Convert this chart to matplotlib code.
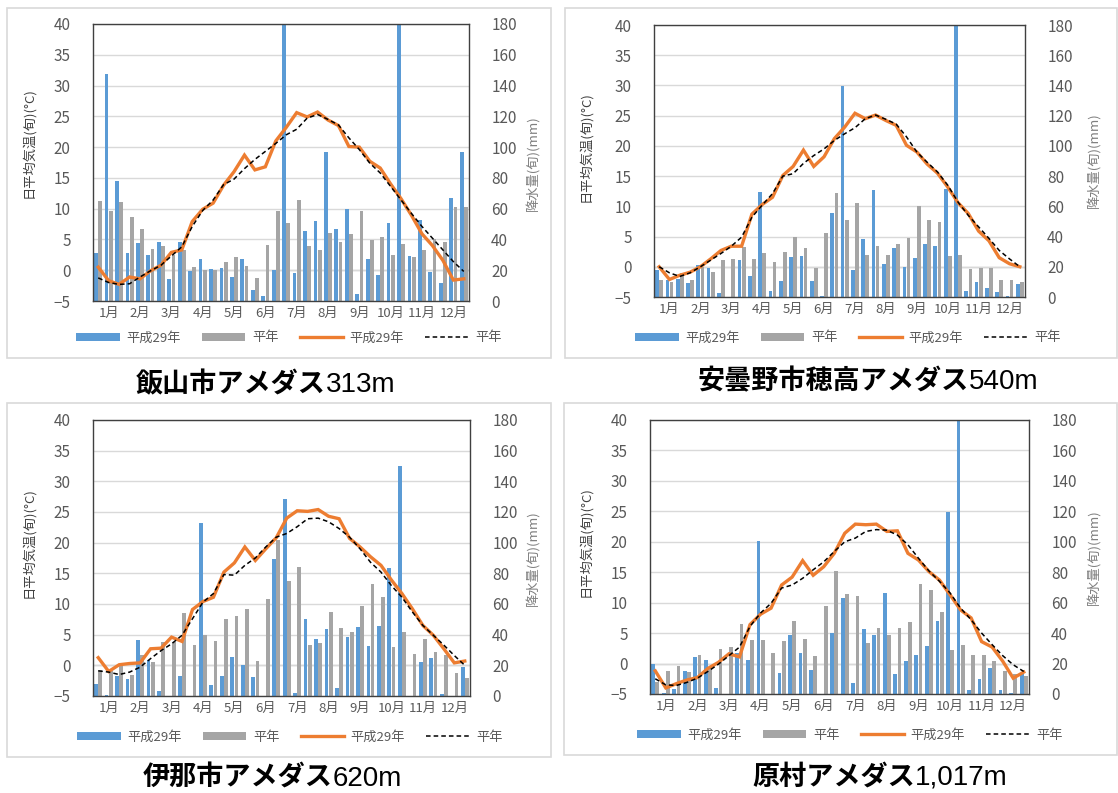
import matplotlib
matplotlib.use("Agg")
import matplotlib.pyplot as plt
import numpy as np
from matplotlib.patches import Rectangle, Patch
from matplotlib.lines import Line2D

plt.rcParams['font.family'] = ['Noto Sans CJK JP', 'DejaVu Sans']

# ---- data: 36 dekads (上旬/中旬/下旬 of each month) ----
months = ['1月', '2月', '3月', '4月', '5月', '6月',
          '7月', '8月', '9月', '10月', '11月', '12月']
series_labels = ['平成29年', '平年', '平成29年', '平年']

station_names = ['飯山市アメダス', '安曇野市穂高アメダス', '伊那市アメダス', '原村アメダス']
station_alts = ['313m', '540m', '620m', '1,017m']

# 飯山
iiyama_rain_2017 = [30.9, 147.6, 78.3, 31.5, 37.4, 30.2, 38.5, 14.3, 38.5, 19.6, 27.4, 20.9,
                    21.7, 15.7, 27.4, 7.4, 3.0, 20.0, 215.0, 18.5, 45.7, 51.7, 96.5, 46.7,
                    59.6, 4.3, 27.4, 17.2, 50.4, 200.0, 29.3, 52.4, 18.7, 11.7, 66.7, 96.7]
iiyama_rain_normal = [65.2, 58.5, 64.6, 54.3, 46.5, 33.9, 35.7, 30.0, 33.0, 22.2, 20.0, 20.0,
                      25.4, 28.7, 22.8, 15.2, 36.1, 58.7, 50.4, 65.7, 35.7, 33.0, 43.9, 38.5,
                      43.5, 58.7, 39.6, 41.7, 29.6, 37.0, 28.7, 33.0, 40.4, 38.3, 61.1, 61.1]
iiyama_temp_2017 = [0.5, -1.7, -2.3, -1.1, -1.4, -0.1, 0.8, 2.9, 3.3, 7.9, 9.9, 10.9,
                    13.8, 16.0, 18.7, 16.3, 16.8, 21.0, 23.2, 25.6, 24.9, 25.7, 24.4, 23.5,
                    20.1, 20.0, 17.7, 16.6, 14.0, 11.6, 8.9, 5.9, 4.0, 1.6, -1.6, -1.4]
iiyama_temp_normal = [-1.25, -2.0, -2.3, -2.2, -1.1, -0.1, 0.8, 2.3, 3.8, 7.1, 9.7, 11.4,
                      13.9, 14.8, 16.5, 18.0, 19.3, 20.6, 22.0, 22.9, 24.7, 25.3, 24.5, 23.6,
                      21.5, 19.6, 17.4, 15.8, 13.6, 11.4, 9.2, 7.1, 5.2, 3.3, 1.4, -0.2]

# 安曇野市穂高
hotaka_rain_2017 = [17.6, 11.0, 12.1, 9.3, 21.0, 19.4, 2.6, 0.0, 24.7, 13.7, 69.5, 4.0,
                    10.6, 26.5, 27.3, 10.6, 0.4, 55.8, 139.4, 17.6, 38.4, 70.6, 22.0, 32.4,
                    19.8, 26.0, 34.8, 34.0, 71.7, 200.0, 4.0, 9.9, 6.2, 3.3, 0.4, 8.4]
hotaka_rain_normal = [11.5, 10.0, 15.9, 11.0, 19.8, 16.5, 24.7, 25.1, 33.0, 25.4, 29.1, 23.2,
                      29.8, 39.7, 32.6, 19.4, 42.3, 69.0, 50.7, 62.2, 28.0, 33.5, 28.0, 34.8,
                      39.3, 60.0, 51.2, 49.4, 26.9, 27.6, 18.7, 19.4, 19.4, 11.5, 11.0, 9.9]
hotaka_temp_2017 = [0.0, -2.1, -1.4, -0.9, 0.0, 1.3, 2.7, 3.4, 3.4, 8.7, 10.3, 11.5,
                    15.1, 16.6, 19.3, 16.6, 18.2, 21.2, 23.1, 25.4, 24.5, 25.1, 24.2, 23.4,
                    20.1, 19.0, 17.0, 15.5, 13.2, 10.6, 8.8, 5.9, 4.3, 1.5, 0.5, 0.0]
hotaka_temp_normal = [0.0, -1.0, -1.6, -1.0, 0.0, 1.1, 2.2, 3.4, 4.9, 8.2, 10.2, 12.1,
                      15.0, 15.4, 17.1, 18.4, 19.5, 20.9, 22.0, 23.0, 24.5, 25.1, 24.4, 23.6,
                      21.5, 19.0, 17.3, 15.7, 13.5, 10.7, 8.5, 6.6, 4.7, 2.7, 1.3, 0.0]

# 伊那
ina_rain_2017 = [8.0, 0.4, 12.8, 11.3, 36.3, 23.3, 3.5, 0.0, 12.8, 0.0, 112.8, 7.0,
                 12.8, 25.4, 20.4, 12.2, 0.0, 89.6, 128.7, 2.2, 50.4, 37.2, 43.9, 5.2,
                 38.5, 45.0, 32.6, 45.7, 83.7, 150.0, 0.0, 22.2, 25.0, 1.5, 0.0, 18.9]
ina_rain_normal = [16.7, 16.0, 19.6, 13.5, 26.5, 22.0, 35.2, 35.2, 54.1, 33.0, 39.6, 35.7,
                   50.4, 52.0, 57.0, 22.8, 63.5, 101.5, 74.8, 84.1, 33.0, 34.6, 54.8, 44.3,
                   41.7, 58.5, 73.0, 64.6, 32.0, 41.7, 27.6, 37.4, 28.7, 26.5, 15.0, 12.0]
ina_temp_2017 = [1.25, -1.0, 0.1, 0.3, 0.4, 2.7, 2.8, 4.6, 3.9, 9.1, 10.4, 11.1,
                 15.2, 16.7, 19.3, 17.1, 19.0, 20.8, 24.0, 25.2, 25.1, 25.4, 24.3, 23.9,
                 20.7, 19.3, 17.7, 16.3, 13.9, 11.7, 9.2, 6.5, 4.9, 2.7, 0.4, 0.7]
ina_temp_normal = [-0.9, -1.1, -1.5, -1.1, -0.3, 1.1, 2.4, 3.5, 4.9, 7.6, 10.3, 11.7,
                   14.8, 14.7, 16.3, 17.5, 19.3, 20.9, 21.5, 22.6, 23.9, 24.0, 23.4, 22.3,
                   20.9, 19.0, 16.8, 15.2, 13.0, 11.1, 8.7, 6.5, 4.9, 3.3, 1.6, 0.0]

# 原村
hara_rain_2017 = [19.7, 0.7, 3.0, 15.3, 24.3, 22.5, 3.9, 0.0, 26.9, 22.1, 100.8, 0.0,
                  13.8, 38.5, 27.1, 16.0, 0.0, 39.8, 63.0, 7.2, 42.6, 38.9, 66.2, 13.1,
                  21.4, 25.8, 31.7, 47.7, 119.8, 200.0, 2.4, 9.8, 17.0, 2.8, 0.7, 13.6]
hara_rain_normal = [8.0, 15.3, 18.1, 14.4, 25.8, 17.0, 29.7, 30.8, 45.9, 35.4, 35.4, 26.7,
                    34.5, 47.7, 36.3, 24.7, 57.9, 80.9, 65.6, 64.5, 33.4, 43.1, 38.9, 43.1,
                    47.0, 72.3, 68.2, 53.8, 28.9, 31.9, 25.4, 25.4, 21.4, 14.9, 13.1, 11.6]
hara_temp_2017 = [-1.2, -4.0, -3.3, -2.7, -2.3, -0.8, 0.2, 1.6, 1.1, 6.4, 8.1, 9.1,
                  12.9, 14.2, 16.9, 14.5, 15.9, 18.1, 21.4, 22.9, 22.8, 22.9, 21.7, 21.8,
                  18.1, 17.0, 15.1, 13.7, 11.3, 8.8, 7.5, 3.6, 2.7, 0.4, -2.4, -1.4]
hara_temp_normal = [-2.5, -3.5, -3.6, -3.1, -2.4, -1.3, -0.1, 1.3, 2.7, 6.1, 8.3, 9.9,
                    12.4, 12.9, 14.0, 15.4, 16.7, 18.4, 20.0, 20.6, 21.7, 22.0, 21.9, 21.1,
                    19.5, 17.3, 15.2, 13.5, 11.6, 9.1, 7.2, 5.0, 3.1, 1.3, -0.2, -1.3]

rain_2017 = [iiyama_rain_2017, hotaka_rain_2017, ina_rain_2017, hara_rain_2017]
rain_normal = [iiyama_rain_normal, hotaka_rain_normal, ina_rain_normal, hara_rain_normal]
temp_2017 = [iiyama_temp_2017, hotaka_temp_2017, ina_temp_2017, hara_temp_2017]
temp_normal = [iiyama_temp_normal, hotaka_temp_normal, ina_temp_normal, hara_temp_normal]

# ---- layout (pixel geometry) ----
W, H = 1118, 793
def fx(px):
    return px / W
def fy(py):
    return 1 - py / H

layouts = [
    dict(ax=(93, 24, 469, 301), box=(7, 8, 551, 358), leg=(289, 338), title=(266, 392),
         ll=(28, 143), rl=(533, 163)),
    dict(ax=(654, 25, 1025, 297), box=(565, 8, 1117, 358), leg=(848, 338), title=(868, 389),
         ll=(585, 147), rl=(1094, 160)),
    dict(ax=(93, 420, 470, 696), box=(7, 403, 551, 757), leg=(290, 737), title=(272, 786),
         ll=(28, 543), rl=(533, 558)),
    dict(ax=(650, 420, 1029, 694), box=(564, 403, 1117, 755), leg=(850, 735), title=(880, 785),
         ll=(585, 542), rl=(1094, 557)),
]

BLUE = '#5B9BD5'
GRAY = '#A5A5A5'
ORANGE = '#ED7D31'
TXT = '#595959'

fig = plt.figure(figsize=(W / 100, H / 100), dpi=100)
fig.patch.set_facecolor('white')

x = np.arange(36)
month_pos = np.arange(1, 36, 3)
title_parts = []

for i, lay in enumerate(layouts):
    bx0, by0, bx1, by1 = lay['box']
    fig.patches.append(Rectangle((fx(bx0), fy(by1)), fx(bx1 - bx0), (by1 - by0) / H,
                                 transform=fig.transFigure, facecolor='none',
                                 edgecolor='#D9D9D9', linewidth=1.2, zorder=0))

    l, t, r, b = lay['ax']
    ax = fig.add_axes([fx(l), fy(b), fx(r - l), (b - t) / H])
    ax.set_xlim(-0.5, 35.5)
    ax.set_ylim(0, 180)
    ax.set_yticks(np.arange(0, 181, 20))
    ax.grid(axis='y', color='#D9D9D9', linewidth=1.0)
    ax.set_axisbelow(True)
    ax.axhline(20, color='#C8C8C8', linewidth=1.0, zorder=0.5)

    ax.bar(x - 0.2, rain_2017[i], width=0.36, color=BLUE, zorder=2)
    ax.bar(x + 0.2, rain_normal[i], width=0.36, color=GRAY, zorder=2)

    ax.set_xticks(month_pos)
    ax.set_xticklabels(months, fontsize=9.5, color=TXT)
    ax.tick_params(axis='x', length=0, pad=4)
    for s in ax.spines.values():
        s.set_color('#404040')
        s.set_linewidth(1.0)

    # temperature axis on the left, precipitation axis on the right
    axt = ax.twinx()
    axt.set_ylim(-5, 40)
    axt.set_yticks(np.arange(-5, 41, 5))
    for s in axt.spines.values():
        s.set_visible(False)
    ax.yaxis.tick_right()
    axt.yaxis.tick_left()
    ax.tick_params(axis='y', length=0, pad=16, labelsize=11, labelcolor=TXT,
                   left=False, labelleft=False, right=False, labelright=True)
    axt.tick_params(axis='y', length=0, pad=16, labelsize=11, labelcolor=TXT,
                    right=False, labelright=False, left=False, labelleft=True)

    axt.plot(x, temp_2017[i], color=ORANGE, linewidth=2.4, solid_joinstyle='miter', zorder=3)
    axt.plot(x, temp_normal[i], color='black', linewidth=1.1, linestyle=(0, (3, 2)), zorder=4)

    fig.text(fx(lay['ll'][0]), fy(lay['ll'][1]), '日平均気温(旬)(°C)', rotation=90,
             ha='center', va='center', fontsize=9.5, color='#404040')
    fig.text(fx(lay['rl'][0]), fy(lay['rl'][1]), '降水量(旬)(mm)', rotation=90,
             ha='center', va='center', fontsize=9.5, color='#7F7F7F')

    handles = [Patch(facecolor=BLUE, edgecolor='none'),
               Patch(facecolor=GRAY, edgecolor='none'),
               Line2D([], [], color=ORANGE, linewidth=2.4),
               Line2D([], [], color='black', linewidth=1.1, linestyle=(0, (3, 2)))]
    fig.legend(handles, series_labels, loc='center', ncol=4, frameon=False,
               bbox_to_anchor=(fx(lay['leg'][0]), fy(lay['leg'][1])),
               bbox_transform=fig.transFigure, fontsize=9.5, labelcolor=TXT,
               handlelength=3.3, handleheight=0.6, handletextpad=0.5, columnspacing=1.6)

    tx, ty = lay['title']
    t1 = fig.text(fx(tx), fy(ty), station_names[i], ha='left', va='baseline',
                  fontsize=19.5, fontweight='bold', color='black',
                  family=['Noto Sans CJK JP'])
    t2 = fig.text(fx(tx), fy(ty), station_alts[i], ha='left', va='baseline',
                  fontsize=20, color='black', family=['Liberation Sans'])
    title_parts.append((tx, t1, t2))

# centre each two-part title on its panel
renderer = fig.canvas.get_renderer()
for tx, t1, t2 in title_parts:
    w1 = t1.get_window_extent(renderer).width
    w2 = t2.get_window_extent(renderer).width
    start = tx - (w1 + w2) / 2
    t1.set_x(fx(start))
    t2.set_x(fx(start + w1))

fig.savefig('out.png', dpi=100, facecolor='white')
